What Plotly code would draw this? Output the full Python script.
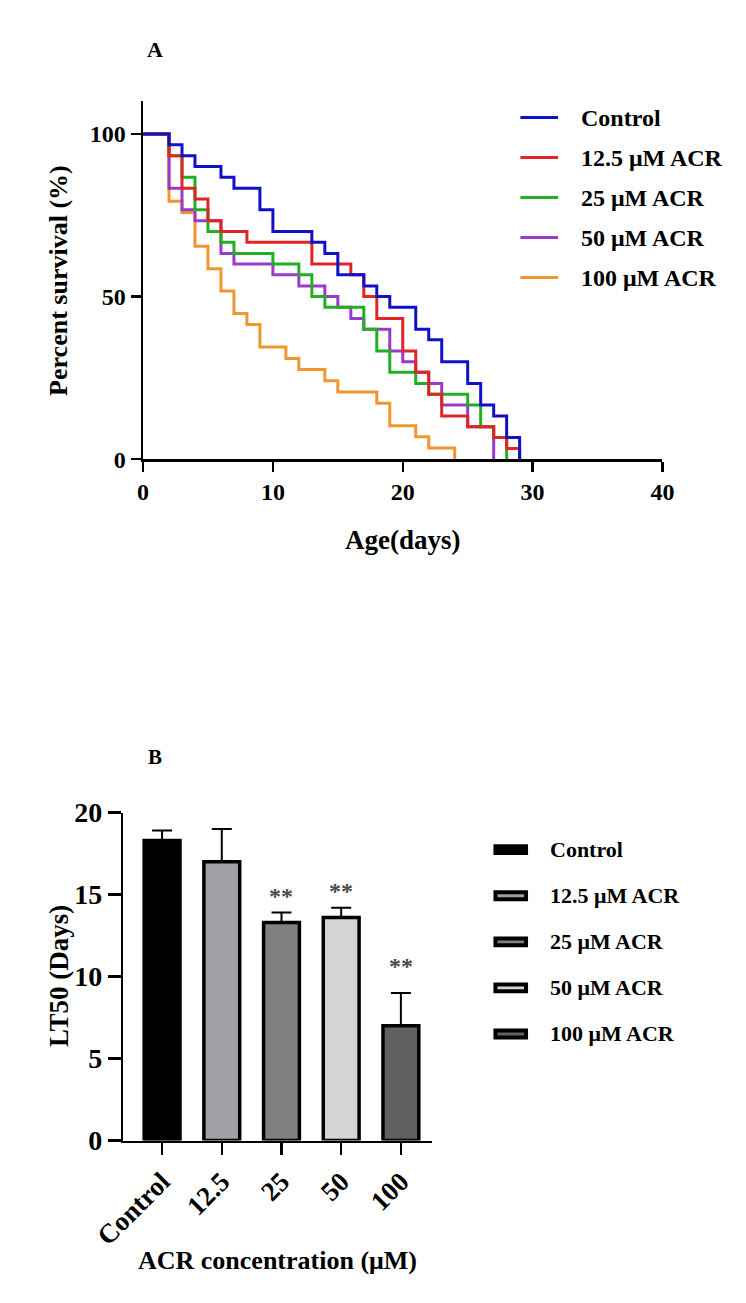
import plotly.graph_objects as go

# ---------------- Panel A data (Kaplan-Meier steps) ----------------
series_names = ["Control", "12.5 μM ACR", "25 μM ACR", "50 μM ACR", "100 μM ACR"]
series_colors = ["#1010c8", "#e02525", "#22b022", "#9a3acc", "#f0962c"]

ctrl_days = [0, 2, 3, 4, 6, 7, 9, 10, 13, 14, 15, 17, 18, 19, 21, 22, 23, 25, 26, 27, 28, 29]
ctrl_surv = [100, 96.7, 93.3, 90, 86.7, 83.3, 76.7, 70, 66.7, 63.3, 56.7, 53.3, 50, 46.7, 40, 36.7, 30, 23.3, 16.7, 13.3, 6.7, 0]

acr125_days = [0, 2, 3, 4, 5, 6, 8, 13, 16, 17, 18, 20, 21, 22, 23, 25, 27, 28, 29]
acr125_surv = [100, 93.3, 83.3, 80, 73.3, 70, 66.7, 60, 56.7, 50, 43.3, 33.3, 26.7, 20, 13.3, 10, 6.7, 3.3, 0]

acr25_days = [0, 2, 3, 4, 5, 6, 7, 10, 12, 13, 14, 17, 18, 19, 21, 22, 25, 26, 27, 28]
acr25_surv = [100, 93.3, 86.7, 76.7, 70, 66.7, 63.3, 60, 56.7, 50, 46.7, 40, 33.3, 26.7, 23.3, 20, 16.7, 10, 6.7, 0]

acr50_days = [0, 2, 3, 4, 6, 7, 10, 12, 14, 15, 16, 17, 19, 20, 21, 22, 23, 25, 27]
acr50_surv = [100, 83.3, 76.7, 73.3, 63.3, 60, 56.7, 53.3, 50, 46.7, 43.3, 40, 33.3, 30, 26.7, 23.3, 16.7, 10, 0]

acr100_days = [0, 2, 3, 4, 5, 6, 7, 8, 9, 11, 12, 14, 15, 18, 19, 21, 22, 24]
acr100_surv = [100, 79.3, 75.9, 65.5, 58.6, 51.7, 44.8, 41.4, 34.5, 31.0, 27.6, 24.1, 20.7, 17.2, 10.3, 6.9, 3.4, 0]

series_days = [ctrl_days, acr125_days, acr25_days, acr50_days, acr100_days]
series_surv = [ctrl_surv, acr125_surv, acr25_surv, acr50_surv, acr100_surv]

xA_ticks = [0, 10, 20, 30, 40]
yA_ticks = [0, 50, 100]

# ---------------- Panel B data ----------------
bar_categories = ["Control", "12.5", "25", "50", "100"]
bar_values = [18.3, 17.0, 13.3, 13.6, 7.0]
bar_errors = [0.6, 2.0, 0.6, 0.6, 2.0]
bar_colors = ["#000000", "#a0a0a6", "#808080", "#d4d4d4", "#606060"]
bar_sig = ["", "", "**", "**", "**"]
bar_legend = ["Control", "12.5 μM ACR", "25 μM ACR", "50 μM ACR", "100 μM ACR"]
yB_ticks = [0, 5, 10, 15, 20]

W, H = 746, 1303
FONT = "Liberation Serif"


def px(x):
    return x / W


def py(y):
    return 1 - y / H


fig = go.Figure()

# first series drawn on top (as in the reference) -> add in reverse order
for name, color, d, s in reversed(list(zip(series_names, series_colors, series_days, series_surv))):
    fig.add_trace(go.Scatter(x=d, y=s, mode="lines", line=dict(color=color, width=3, shape="hv"),
                             name=name, showlegend=False, hoverinfo="skip", xaxis="x", yaxis="y"))

fig.add_trace(go.Bar(
    x=bar_categories, y=bar_values, width=0.6,
    marker=dict(color=bar_colors, line=dict(color="black", width=3.5)),
    error_y=dict(type="data", array=bar_errors, arrayminus=[0] * len(bar_errors), symmetric=False,
                 color="black", thickness=2, width=10),
    showlegend=False, hoverinfo="skip", xaxis="x2", yaxis="y2"))


def axis_common(size):
    return dict(showgrid=False, zeroline=False, showline=True, linecolor="black", linewidth=2.5,
                ticks="outside", tickcolor="black", tickwidth=2.5,
                tickfont=dict(family=FONT, size=size, color="black", weight="bold"))


fig.update_layout(
    width=W, height=H, margin=dict(l=0, r=0, t=0, b=0),
    paper_bgcolor="white", plot_bgcolor="white",
    font=dict(family=FONT, color="black"),
    bargap=0, showlegend=False,
    xaxis=dict(domain=[px(118), px(670)], range=[0, 40], tickvals=xA_ticks, ticklen=10,
               anchor="y", **axis_common(24)),
    yaxis=dict(domain=[py(455), py(88)], range=[0, 110.2], tickvals=yA_ticks, ticklen=10,
               anchor="x", **axis_common(24)),
    xaxis2=dict(domain=[px(97), px(425)], range=[-0.65, 4.52], type="category", ticklen=12,
                tickangle=-45, anchor="y2", **axis_common(27)),
    yaxis2=dict(domain=[py(1153), py(817)], range=[0, 20], tickvals=yB_ticks, ticklen=13,
                anchor="x2", **axis_common(28)),
)

# significance stars (category index used for x)
star_shift = [0, 0, 2, 2, 12]
for i, (v, e, sig) in enumerate(zip(bar_values, bar_errors, bar_sig)):
    if sig:
        fig.add_annotation(x=i, y=v + e, xref="x2", yref="y2", text=sig, showarrow=False,
                           yanchor="bottom", yshift=star_shift[i],
                           font=dict(family=FONT, size=24, color="#4a4a4a", weight="bold"))

bold = dict(family=FONT, color="black", weight="bold")

# panel labels and axis titles
texts = [
    ("A", 131, 35, 22, 0),
    ("B", 131, 760, 21, 0),
    ("Percent survival (%)", 28, 272, 26, -90),
    ("Age(days)", 394, 538, 27, 0),
    ("LT50 (Days)", 28, 984, 27, -90),
    ("ACR concentration (μM)", 261, 1276, 26, 0),
]
for t, x, y, s, a in texts:
    fig.add_annotation(x=px(x), y=py(y), xref="paper", yref="paper", text=t, showarrow=False,
                       textangle=a, xanchor="center", yanchor="middle", font=dict(size=s, **bold))

# Legend A (lines)
legA_y0, legA_dy = 105, 41
for i, (name, color) in enumerate(zip(series_names, series_colors)):
    yy = legA_y0 + i * legA_dy
    fig.add_shape(type="line", xref="paper", yref="paper", x0=px(519), x1=px(559), y0=py(yy), y1=py(yy),
                  line=dict(color=color, width=3))
    fig.add_annotation(x=px(581), y=py(yy), xref="paper", yref="paper", text=name, showarrow=False,
                       xanchor="left", yanchor="middle", font=dict(size=24, **bold))

# Legend B (bars)
legB_y0, legB_dy = 855, 47.2
for i, (name, color) in enumerate(zip(bar_legend, bar_colors)):
    yy = legB_y0 + i * legB_dy
    fig.add_shape(type="rect", xref="paper", yref="paper", x0=px(492.5), x1=px(525), y0=py(yy - 3.5),
                  y1=py(yy + 3.5), fillcolor=color, line=dict(color="black", width=4))
    fig.add_annotation(x=px(548), y=py(yy), xref="paper", yref="paper", text=name, showarrow=False,
                       xanchor="left", yanchor="middle", font=dict(size=22, **bold))

fig.write_html("out.html", config={"displayModeBar": False, "staticPlot": True},
               post_script="document.body.style.margin='0';document.body.style.overflow='hidden';")
